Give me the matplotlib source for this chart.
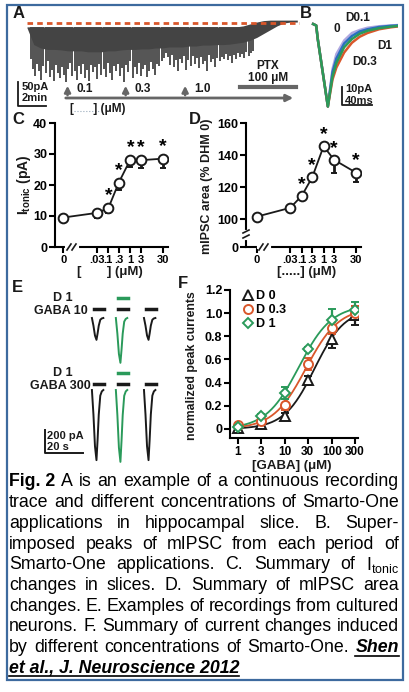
import numpy as np
import matplotlib
matplotlib.use("Agg")
import matplotlib.pyplot as plt
from matplotlib.patches import Rectangle
from matplotlib.lines import Line2D

plt.rcParams['font.family'] = ['Liberation Sans', 'DejaVu Sans']
plt.rcParams['mathtext.fontset'] = 'custom'
plt.rcParams['mathtext.rm'] = 'Liberation Sans:bold'
plt.rcParams['mathtext.it'] = 'Liberation Sans:italic:bold'

W, H = 410, 692
DARK = '#1a1a1a'
GRAY = '#444444'
ORANGE = '#d9572b'
GREEN = '#2a9a5a'
BLUE = '#2a6fc0'
LAV = '#b0a8e0'

# ---------------- data ----------------
conc_labels = ['0', '.03', '.1', '.3', '1', '3', '30']
conc = [0, 0.03, 0.1, 0.3, 1, 3, 30]
itonic = [9.5, 11.0, 12.5, 20.8, 28.2, 28.0, 28.5]
itonic_err = [1.0, 1.5, 1.5, 2.5, 2.5, 2.5, 3.0]
itonic_sig = [False, False, True, True, True, True, True]
area = [101.5, 107.0, 114.5, 126.0, 145.5, 137.0, 129.0]
area_err = [1.0, 1.5, 2.5, 3.0, 1.0, 8.0, 6.0]
area_sig = [False, False, True, True, True, True, True]

gaba = [1, 3, 10, 30, 100, 300]
f_labels = ['D 0', 'D 0.3', 'D 1']
f_vals = [[0.01, 0.04, 0.11, 0.42, 0.78, 0.98],
          [0.03, 0.07, 0.21, 0.56, 0.87, 1.00],
          [0.02, 0.11, 0.31, 0.69, 0.94, 1.03]]
f_err = [[0.0, 0.01, 0.03, 0.04, 0.08, 0.08],
         [0.0, 0.02, 0.05, 0.05, 0.05, 0.06],
         [0.0, 0.02, 0.05, 0.02, 0.10, 0.07]]

a_t = np.arange(0, 20.5, 0.5)
a_top = [-8]*32 + [-6, -2, 2, 5, 6, 6, 6, 6, 6]
a_low = [-10, -45, -52, -55, -55, -56, -58, -58, -58, -60, -60, -60, -58, -58,
         -56, -55, -55, -54, -54, -52, -52, -50, -50, -50, -48, -48, -46, -46,
         -45, -45, -44, -42, -40, -36, -30, -22, -14, -6, 0, 2, 2]
a_spk = [-75, -95, -110, -85, -100, -118, -90, -105, -80, -112, -98, -120, -88,
         -104, -115, -92, -108, -123, -96, -84, -110, -100, -119, -90, -106, -85,
         -114, -97, -121, -88, -102, -92, -116, -86, -108, -95, -112, -83, -104,
         -118, -90, -100, -86, -110, -94, -122, -88, -103, -80, -115, -92, -106,
         -84, -110, -96, -88, -112, -100, -82, -95, -108, -86, -90, -80, -72, -62,
         -70, -88, -66, -92, -78, -101, -74, -83, -69, -97, -77, -90, -68, -85,
         -73, -94, -71, -86, -79, -99, -67, -82, -76, -91, -72, -80, -70, -75,
         -64, -78, -68, -84, -66, -74, -62, -70, -65, -72, -60, -68, -63, -58]
a_spk_t = np.linspace(0.3, 16.7, len(a_spk))
a_events = [('0.1', 3.0), ('0.3', 7.3), ('1.0', 11.7)]

b_t = [0, 4, 6, 19, 25, 30, 40, 50, 60, 70, 85, 100, 115]
b_traces = {
    '0':    [0, -1, -10, -55, -30, -20, -11, -6, -4, -2.5, -1.5, -1, -0.5],
    'D0.1': [0, -1, -10, -55, -32, -23, -13, -8, -5, -3.5, -2, -1.2, -0.8],
    'D0.3': [0, -1, -10, -55, -37, -29, -19, -12.5, -8.5, -6, -3.5, -2.2, -1.3],
    'D1':   [0, -1, -10, -55, -35, -26, -15.5, -10, -6.5, -4.5, -2.8, -1.8, -1],
}
b_colors = {'0': LAV, 'D0.1': BLUE, 'D0.3': ORANGE, 'D1': GREEN}

e_shape_t = [0, 0.8, 1.6, 2.4, 3.0, 3.6, 4.4, 5.2, 6.0]
e_shape = [0, -0.35, -0.8, -1.0, -0.7, -0.35, -0.08, -0.02, 0]
e_starts = [-3.2, 9.4, 24.2]
e_amp_row1 = [190, 390, 190]
e_amp_row2 = [610, 625, 610]

fig = plt.figure(figsize=(W/100, H/100), dpi=100)

def pax(l, t, r, b, **kw):
    return fig.add_axes([l/W, 1-b/H, (r-l)/W, (b-t)/H], **kw)

ov = pax(0, 0, W, H, zorder=10)
ov.set_xlim(0, W); ov.set_ylim(H, 0); ov.axis('off'); ov.patch.set_alpha(0)
ov.add_patch(Rectangle((7, 5), 396, 675, fill=False, ec='#3d6a9e', lw=1.6))

def T(x, y, s, **kw):
    kw.setdefault('fontweight', 'bold')
    kw.setdefault('fontsize', 9)
    kw.setdefault('color', DARK)
    ov.text(x, y, s, ha=kw.pop('ha', 'left'), va=kw.pop('va', 'center'), **kw)

for lab, x, y in [('A', 13, 13), ('B', 300, 13), ('C', 12, 120), ('D', 189, 120), ('E', 12, 288), ('F', 178, 283)]:
    T(x, y, lab, fontsize=12)

# ---------- Panel A ----------
axA = pax(27, 14, 300, 86)
axA.set_xlim(0, 20.2)
pxpa = 24/50.0
axA.set_ylim(-(86-23)/pxpa, (23-14)/pxpa)
axA.axis('off')
axA.fill_between(a_t, a_low, a_top, color=GRAY, lw=0)
axA.vlines(a_spk_t, a_spk, -8, color=GRAY, lw=1.3)
axA.axhline(0, color=ORANGE, ls=(0, (2, 1.5)), lw=2)
ov.annotate('', xy=(296, 98), xytext=(63, 98), arrowprops=dict(arrowstyle='-|>', color='#666', lw=2, mutation_scale=10))
for lab, tm in a_events:
    x = 27 + tm/20.2*273
    ov.annotate('', xy=(x, 83), xytext=(x, 98), arrowprops=dict(arrowstyle='-|>', color='#666', lw=1.8, mutation_scale=9))
    T(x+9, 89, lab, fontsize=8.5)
ov.plot([240, 296], [87, 87], color='#666', lw=3)
T(268, 66, 'PTX', ha='center', fontsize=8.5)
T(268, 78, '100 μM', ha='center', fontsize=8.5)
ov.plot([18, 18, 46], [82, 106, 106], color=DARK, lw=1.3)
T(22, 87, '50pA', fontsize=8)
T(22, 98, '2min', fontsize=8)
T(70, 109, '[      ] (μM)', fontsize=8.5)
ov.plot([74, 100], [111, 111], color='#9ab', lw=0.8, ls=':')

# ---------- Panel B ----------
axB = pax(310, 16, 398, 112)
axB.set_xlim(-4, (398-313)/0.75 - 4)
axB.set_ylim(-(112-24)/1.5, (24-16)/1.5)
axB.axis('off')
for k in ['0', 'D0.1', 'D0.3', 'D1']:
    axB.plot(b_t, b_traces[k], color=b_colors[k], lw=1.8)
T(345, 18, 'D0.1', fontsize=8.5)
T(334, 29, '0', fontsize=8.5)
T(377, 46, 'D1', fontsize=8.5)
T(352, 62, 'D0.3', fontsize=8.5)
ov.plot([342, 342, 372], [87, 105, 105], color=DARK, lw=1.3)
T(345, 89.5, '10pA', fontsize=8)
T(345, 100.5, '40ms', fontsize=8)

# ---------- Panels C, D ----------
xpos = lambda c: np.log10(c) if c > 0 else -3.05
cx = [xpos(c) for c in conc]

def style(ax, xfs=9):
    for s in ['top', 'right']:
        ax.spines[s].set_visible(False)
    for s in ['left', 'bottom']:
        ax.spines[s].set_linewidth(1.5)
    ax.tick_params(width=1.5, length=4, labelsize=9, pad=1.5)
    ax.tick_params(axis='x', labelsize=xfs)
    for l in ax.get_xticklabels() + ax.get_yticklabels():
        l.set_fontweight('bold')
    ax.patch.set_alpha(0)

axC = pax(55, 123, 168, 247)
axC.set_xlim(-3.42, 1.71); axC.set_ylim(0, 40)
axC.errorbar(cx, itonic, yerr=[itonic_err, [0]*7], fmt='-o', color=DARK, mfc='white',
             mec=DARK, ms=7, mew=1.4, lw=1.3, capsize=2.5, capthick=2, elinewidth=2)
for x, v, s in zip(cx, itonic, itonic_sig):
    if s:
        axC.text(x, v+1.2, '*', ha='center', va='bottom', fontsize=14, fontweight='bold')
axC.set_xticks(cx); axC.set_xticklabels(conc_labels)
axC.set_yticks([0, 10, 20, 30, 40])
style(axC, 8)

axD = pax(246, 123, 361, 247)
zero_pos = 100 - (247-219)/(124/77.5)
axD.set_xlim(-3.55, 1.71); axD.set_ylim(zero_pos, 160)
axD.errorbar(cx, area, yerr=[area_err, [0]*7], fmt='-o', color=DARK, mfc='white',
             mec=DARK, ms=7, mew=1.4, lw=1.3, capsize=2.5, capthick=2, elinewidth=2)
for x, v, s in zip(cx, area, area_sig):
    if s:
        axD.text(x, v+2, '*', ha='center', va='bottom', fontsize=14, fontweight='bold')
axD.set_xticks(cx); axD.set_xticklabels(conc_labels)
axD.set_yticks([zero_pos, 100, 120, 140, 160]); axD.set_yticklabels(['0', '100', '120', '140', '160'])
style(axD, 8)

for (x0, y0) in [(70, 247), (262, 247)]:
    ov.plot([x0-3, x0+7], [y0, y0], color='white', lw=3)
    ov.plot([x0-3, x0+1], [y0+3, y0-3], color=DARK, lw=1.2)
    ov.plot([x0+2, x0+6], [y0+3, y0-3], color=DARK, lw=1.2)
ov.plot([246, 246], [232, 238], color='white', lw=3)
ov.plot([243, 249], [233, 230], color=DARK, lw=1.2)
ov.plot([243, 249], [238, 235], color=DARK, lw=1.2)

T(24, 185, 'I$_{\\rm tonic}$ (pA)', rotation=90, ha='center', fontsize=10)
T(207, 186, 'mIPSC area (% DHM 0)', rotation=90, ha='center', fontsize=9)
T(110, 272, '[       ] (μM)', ha='center', fontsize=9.5)
T(307, 272, '[.....] (μM)', ha='center', fontsize=9.5)

# ---------- Panel E ----------
axE = pax(30, 285, 170, 470)
spx, ppa = 1.9, 0.115
axE.set_xlim((30-98)/spx, (170-98)/spx)
axE.set_ylim(-(470-318)/ppa, (318-285)/ppa)
axE.axis('off')
row2_off = -(390-318)/ppa
for i, st in enumerate(e_starts):
    col = GREEN if i == 1 else DARK
    tt = [st + v for v in e_shape_t]
    axE.plot(tt, [a*e_amp_row1[i] for a in e_shape], color=col, lw=1.4)
    axE.plot(tt, [row2_off + a*e_amp_row2[i] for a in e_shape], color=col, lw=1.4)
for y in [309, 384]:
    for x0 in [94, 118, 146]:
        ov.plot([x0, x0+10], [y, y], color=DARK, lw=2.5)
    ov.plot([118, 128], [y-11, y-11], color=GREEN, lw=2.5)
T(63, 298, 'D 1', ha='center', fontsize=9)
T(88, 311, 'GABA 10', ha='right', fontsize=9)
T(63, 373, 'D 1', ha='center', fontsize=9)
T(91, 386, 'GABA 300', ha='right', fontsize=9)
ov.plot([45, 45, 83], [430, 453, 453], color=DARK, lw=1.4)
T(47, 436, '200 pA', fontsize=8)
T(47, 447, '20 s', fontsize=8)

# ---------- Panel F ----------
axF = pax(230, 290, 358, 438)
axF.set_xscale('log')
axF.set_xlim(0.677, 347); axF.set_ylim(-0.078, 1.2)
xs = np.logspace(0, np.log10(300), 200)
markers = ['^', 'o', 'D']
cols = [DARK, ORANGE, GREEN]
handles = []
for vals, errs, m, c, lab in zip(f_vals, f_err, markers, cols, f_labels):
    v = np.array(vals); g = np.array(gaba, float)
    best = None
    for top in np.linspace(0.95, 1.15, 21):
        for ec in np.logspace(0.5, 2, 60):
            for n in np.linspace(0.8, 2.0, 25):
                p = top/(1+(ec/g)**n)
                e = np.sum((p-v)**2)
                if best is None or e < best[0]:
                    best = (e, top, ec, n)
    _, top, ec, n = best
    axF.plot(xs, top/(1+(ec/xs)**n), color=c, lw=1.3)
    ms = 6.5 if m != 'D' else 5.5
    axF.errorbar(gaba, vals, yerr=errs, fmt=m, color=c, mfc='white', mec=c,
                 ms=ms, mew=1.4, capsize=3, capthick=1.6, elinewidth=1.6)
    handles.append(Line2D([], [], ls='none', marker=m, mfc='white', mec=c, ms=ms, mew=1.4, label=lab))
axF.set_xticks(gaba); axF.set_xticklabels([str(g) for g in gaba])
axF.xaxis.set_minor_locator(matplotlib.ticker.NullLocator())
axF.set_yticks([0, 0.2, 0.4, 0.6, 0.8, 1.0, 1.2])
axF.set_yticklabels(['0', '0.2', '0.4', '0.6', '0.8', '1.0', '1.2'])
style(axF, 8.5)
leg = axF.legend(handles=handles, loc='upper left', frameon=False, fontsize=9, handletextpad=0.2,
                 borderaxespad=0.1, labelspacing=0.15, handlelength=1.0,
                 bbox_to_anchor=(0.04, 1.04))
for t in leg.get_texts():
    t.set_fontweight('bold')
T(192, 366, 'normalized peak currents', rotation=90, ha='center', fontsize=8.8)
T(292, 466, '[GABA] (μM)', ha='center', fontsize=9.5)

# ---------- Caption ----------
cap = [
    [('Fig. 2', 'b'), 'A is an example of a continuous recording'],
    ['trace and different concentrations of Smarto-One'],
    ['applications in hippocampal slice. B. Super-'],
    ['imposed peaks of mIPSC from each period of'],
    ['Smarto-One applications. C. Summary of I$_{\\mathregular{tonic}}$'],
    ['changes in slices. D. Summary of mIPSC area'],
    ['changes. E. Examples of recordings from cultured'],
    ['neurons. F. Summary of current changes induced'],
    ['by different concentrations of Smarto-One.', ('Shen', 'bi')],
    [('et al., J. Neuroscience 2012', 'bi')],
]
fig.canvas.draw()
rend = fig.canvas.get_renderer()
FS = 12.8
X0, X1 = 9, 399
y = 482
for li, line in enumerate(cap):
    words = []
    for part in line:
        if isinstance(part, tuple):
            words.append(part)
        else:
            words += [(w, 'n') for w in part.split(' ')]
    texts = []
    for w, st in words:
        kw = dict(fontsize=FS, color='black', va='center', ha='left')
        if st == 'b':
            kw['fontweight'] = 'bold'
        elif st == 'bi':
            kw['fontweight'] = 'bold'; kw['fontstyle'] = 'italic'
        tx = ov.text(0, y, w, **kw)
        texts.append((tx, st))
    widths = [tx.get_window_extent(rend).width for tx, st in texts]
    total = sum(widths)
    n = len(texts)
    gap = 4 if li == 9 else (X1 - X0 - total) / max(n-1, 1)
    x = X0
    for (tx, st), wdt in zip(texts, widths):
        tx.set_x(x)
        if st == 'bi':
            ov.plot([x, x+wdt], [y+8, y+8], color='black', lw=1.2)
        x += wdt + gap
    y += 20.7

fig.savefig('out.png', dpi=100)
